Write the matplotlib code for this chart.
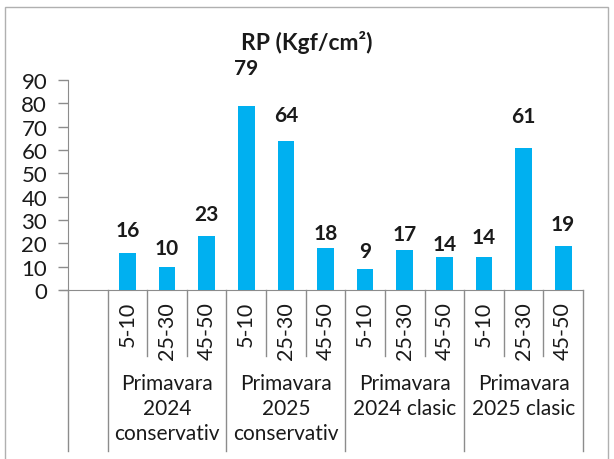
import matplotlib.pyplot as plt
from matplotlib.patches import Rectangle

# data
depths = ["5-10", "25-30", "45-50"]
groups = ["Primavara\n2024\nconservativ", "Primavara\n2025\nconservativ",
          "Primavara\n2024 clasic", "Primavara\n2025 clasic"]
rp_values = [16, 10, 23, 79, 64, 18, 9, 17, 14, 14, 61, 19]
# how far each value label sits above its bar (in data units), as in the original
label_lift = [9.7, 8.2, 9.6, 16.1, 11, 6.6, 7.5, 7, 5.7, 8.9, 13.4, 9.3]

plt.rcParams['font.family'] = ['Lato', 'DejaVu Sans']
axis_grey = "#8c8c8c"
bar_blue = "#00b0f0"
txt = "#1a1a1a"

W, H = 614, 460
fig = plt.figure(figsize=(W / 100, H / 100), dpi=100)
fig.patch.set_facecolor("white")
fig.patches.append(Rectangle((5 / W, -0.05), 603 / W, 1.05 - 8 / H, transform=fig.transFigure,
                             fill=False, edgecolor="#b0b0b0", linewidth=1.0))

x0, x1, y0, y1 = 68, 583, 291, 81
ax = fig.add_axes([x0 / W, 1 - y0 / H, (x1 - x0) / W, (y0 - y1) / H])

n_cat = len(rp_values) + 1  # first category slot is empty
pos = [i + 1.5 for i in range(len(rp_values))]
ax.bar(pos, rp_values, width=0.42, color=bar_blue, zorder=3)

for p, v, lift in zip(pos, rp_values, label_lift):
    ax.text(p, v + lift, str(v), ha="center", va="center", fontsize=15,
            fontweight="bold", color=txt, clip_on=False)

ax.set_xlim(0, n_cat)
ax.set_ylim(0, 90)
ax.set_yticks(range(0, 91, 10))
ax.set_xticks([])
ax.tick_params(axis="y", direction="out", length=7, width=1, color=axis_grey,
               labelsize=16, labelcolor=txt, pad=8)
for s in ["top", "right"]:
    ax.spines[s].set_visible(False)
for s in ["left", "bottom"]:
    ax.spines[s].set_color(axis_grey)
ax.spines["bottom"].set_bounds(-0.2, n_cat)

# multi-level category axis
tr = ax.get_xaxis_transform()
scale = y0 - y1
short_y = -(357 - y0) / scale
long_y = -(452 - y0) / scale
for b in range(n_cat + 1):
    if b == 0 or (b - 1) % 3 == 0:
        bottom = long_y
    else:
        bottom = short_y
    ax.plot([b, b], [0, bottom], color=axis_grey, lw=1, transform=tr, clip_on=False)

for i, p in enumerate(pos):
    ax.text(p, -(302 - y0) / scale, depths[i % 3], rotation=90, ha="center", va="top",
            fontsize=15.5, color=txt, transform=tr)

for g, name in enumerate(groups):
    ax.text(2.5 + 3 * g, -(374 - y0) / scale, name, ha="center", va="top",
            fontsize=15, color=txt, transform=tr, linespacing=1.3)

fig.text(307 / W, 1 - 43 / H, "RP (Kgf/cm²)", ha="center", va="center",
         fontsize=16.5, fontweight="bold", color=txt)

fig.savefig("out.png", dpi=100)
